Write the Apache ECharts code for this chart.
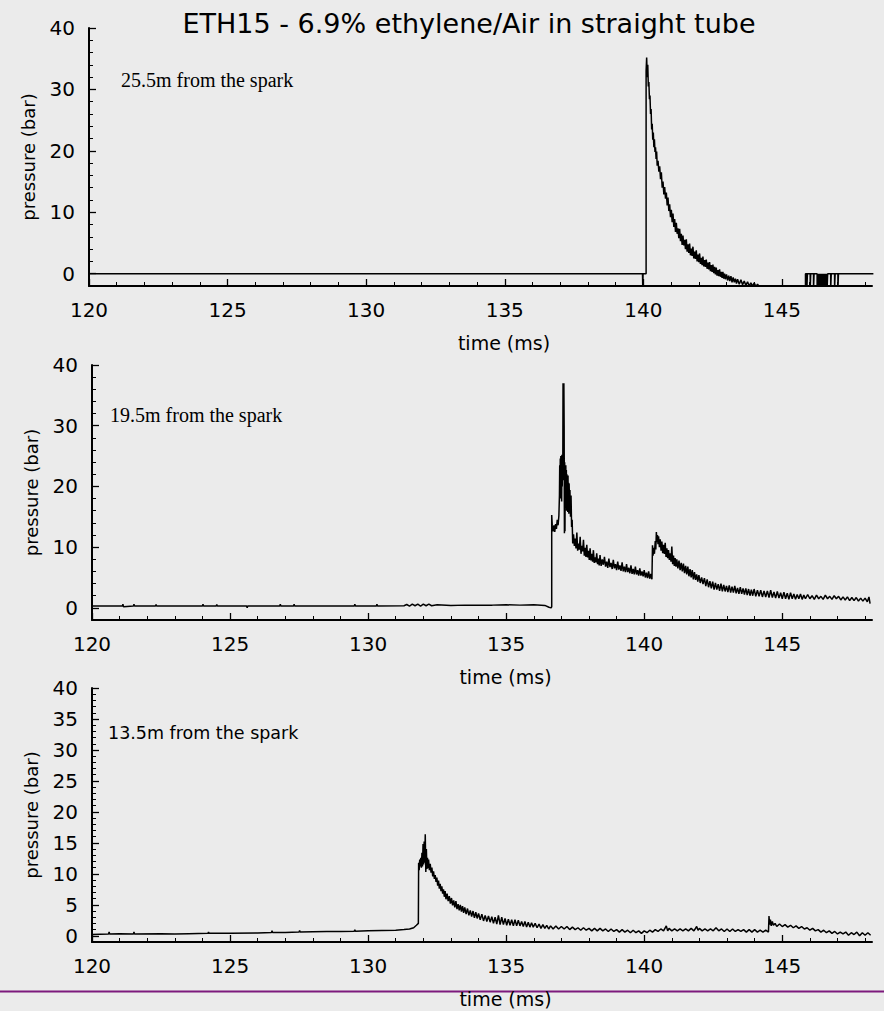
<!DOCTYPE html>
<html><head><meta charset="utf-8">
<script src="https://cdn.jsdelivr.net/npm/echarts@6/dist/echarts.min.js"></script>
<style>html,body{margin:0;padding:0;background:#ebebeb}#chart{width:884px;height:1011px}</style>
</head><body><div id="chart"></div>
<script>
// ---------- text ----------
const chartTitle = 'ETH15 - 6.9% ethylene/Air in straight tube';
const panelLabels = ['25.5m from the spark', '19.5m from the spark', '13.5m from the spark'];
const xAxisName = 'time (ms)';
const yAxisName = 'pressure (bar)';

// ---------- tick values ----------
const xLabelValues = [120, 125, 130, 135, 140, 145];
const xMinorValues = [121, 122, 123, 124, 126, 127, 128, 129, 131, 132, 133, 134, 136, 137, 138, 139, 141, 142, 143, 144, 146, 147, 148];
const yLabelValues40 = [0, 10, 20, 30, 40];
const yMinorValues40 = [2, 4, 6, 8, 12, 14, 16, 18, 22, 24, 26, 28, 32, 34, 36, 38];
const yLabelValues5 = [0, 5, 10, 15, 20, 25, 30, 35, 40];
const yMinorValues5 = [1, 2, 3, 4, 6, 7, 8, 9, 11, 12, 13, 14, 16, 17, 18, 19, 21, 22, 23, 24, 26, 27, 28, 29, 31, 32, 33, 34, 36, 37, 38, 39];
const xRange = [120, 148.25];
const yRanges = [[-2, 40], [-2, 40], [-1, 40]];

// ---------- traces: [time ms, pressure bar] ----------
const trace25_5m = [
 [120, 0], [139.97, 0], [139.98, -2.5], [139.99, 0], [140.1, 0],
 [140.1, 33], [140.12, 35.2], [140.14, 32.0], [140.16, 34.0], [140.18, 30.5], [140.20, 31.2], [140.22, 28.4],
 [140.24, 29.0], [140.26, 26.0], [140.28, 26.8], [140.30, 23.5], [140.32, 24.4], [140.34, 21.8], [140.36, 23.0],
 [140.38, 20.6], [140.40, 21.9], [140.42, 19.8], [140.44, 20.6], [140.46, 18.7], [140.48, 19.9], [140.50, 17.6],
 [140.53, 18.4], [140.56, 16.6], [140.59, 17.5], [140.62, 15.4], [140.65, 16.5], [140.68, 14.0], [140.71, 15.0],
 [140.74, 12.9], [140.77, 14.1], [140.80, 12.2], [140.83, 13.2], [140.86, 11.1], [140.89, 12.4], [140.92, 10.2],
 [140.95, 11.3], [140.98, 9.2], [141.01, 10.4], [141.04, 8.4], [141.07, 9.8], [141.10, 7.6], [141.13, 8.9],
 [141.16, 6.8], [141.19, 8.3], [141.22, 6.5], [141.25, 7.4], [141.28, 5.8], [141.31, 7.3], [141.34, 5.3],
 [141.37, 6.5], [141.40, 4.7], [141.43, 6.2], [141.46, 4.6], [141.49, 5.5], [141.52, 4.0], [141.55, 5.6],
 [141.58, 3.6], [141.61, 4.8], [141.64, 3.4], [141.67, 4.9], [141.70, 3.0], [141.73, 4.1], [141.76, 2.9],
 [141.79, 4.4], [141.82, 2.5], [141.85, 3.6], [141.88, 2.4], [141.91, 3.8], [141.94, 2.0], [141.97, 3.1],
 [142.00, 1.9], [142.03, 3.3], [142.06, 1.6], [142.09, 2.6], [142.12, 1.4], [142.15, 2.8], [142.18, 1.2],
 [142.21, 2.2], [142.24, 1.1], [142.27, 2.3], [142.30, 0.8], [142.33, 1.8], [142.36, 0.7], [142.39, 1.9],
 [142.42, 0.4], [142.45, 1.4], [142.48, 0.3], [142.51, 1.5], [142.54, 0.1], [142.57, 1.1], [142.60, -0.1],
 [142.63, 1.0], [142.66, -0.3], [142.69, 0.6], [142.72, -0.4], [142.75, 0.7], [142.78, -0.5], [142.81, 0.3],
 [142.84, -0.7], [142.87, 0.3], [142.90, -0.8], [142.93, 0.0], [142.96, -0.9], [143.00, -0.1], [143.04, -1.1],
 [143.08, -0.3], [143.12, -1.2], [143.16, -0.4], [143.20, -1.4], [143.24, -0.6], [143.28, -1.4], [143.32, -0.8],
 [143.36, -1.6], [143.40, -0.9], [143.46, -1.7], [143.52, -1.0], [143.58, -1.8], [143.64, -1.2], [143.70, -1.9],
 [143.76, -1.3], [143.82, -2.0], [143.88, -1.5], [143.94, -2.0], [144.00, -1.5], [144.06, -2.1], [144.12, -1.7],
 [144.18, -2.1], [144.24, -2.5], [145.85, -2.5], [145.85, 0],
 [145.90, 0], [145.90, -2.5], [145.92, -2.5], [145.92, 0], [146.02, 0], [146.02, -2.5], [146.04, -2.5], [146.04, 0],
 [146.14, 0], [146.14, -2.5], [146.16, -2.5], [146.16, 0], [146.27, 0], [146.27, -2.5], [146.29, 0], [146.31, -2.5],
 [146.33, 0], [146.35, -2.5], [146.37, 0], [146.39, -2.5], [146.41, 0], [146.43, -2.5], [146.45, 0], [146.47, -2.5],
 [146.49, 0], [146.51, -2.5], [146.53, 0], [146.55, -2.5], [146.57, 0], [146.59, -2.5], [146.61, 0], [146.63, -2.5],
 [146.65, 0], [146.76, 0], [146.76, -2.5], [146.78, -2.5], [146.78, 0], [146.90, 0], [146.90, -2.5], [146.92, 0],
 [147.02, 0], [147.02, -2.5], [147.04, -2.5], [147.04, 0], [148.3, 0]
];

const trace19_5m = [
 [120, 0.3], [121.1, 0.3], [121.12, 0.6], [121.14, 0.2], [121.5, 0.3], [121.52, 0.6], [121.54, 0.3],
 [122.3, 0.3], [122.32, 0.55], [122.34, 0.3], [124.0, 0.3], [124.02, 0.6], [124.04, 0.3], [124.5, 0.3],
 [124.52, 0.55], [124.54, 0.3], [125.6, 0.3], [125.62, 0.0], [125.64, 0.3], [126.8, 0.3], [126.82, 0.6],
 [126.84, 0.3], [127.3, 0.3], [127.32, 0.6], [127.34, 0.3], [129.5, 0.3], [129.52, 0.6], [129.54, 0.3],
 [130.3, 0.3], [130.32, 0.6], [130.34, 0.3], [131.3, 0.35], [131.4, 0.55], [131.5, 0.3], [131.6, 0.6],
 [131.7, 0.35], [131.8, 0.6], [131.9, 0.3], [132.0, 0.6], [132.1, 0.35], [132.2, 0.6], [132.3, 0.35],
 [132.5, 0.5], [133.0, 0.4], [133.5, 0.45], [134.0, 0.45], [134.5, 0.45], [135.0, 0.5], [135.5, 0.45],
 [136.0, 0.5], [136.4, 0.4], [136.55, 0.1], [136.63, 0.0],
 [136.65, 0.2], [136.65, 15.3], [136.67, 13.5], [136.70, 12.6], [136.73, 13.6], [136.76, 12.5], [136.79, 13.8],
 [136.82, 13.0], [136.85, 14.5], [136.88, 13.6], [136.91, 15.2], [136.93, 18.5], [136.94, 23.5], [136.95, 19.0],
 [136.96, 24.6], [136.97, 18.0], [136.98, 25.0], [136.99, 19.5], [137.00, 24.3], [137.01, 17.5], [137.02, 25.2],
 [137.03, 20.0], [137.04, 24.0], [137.05, 21.0], [137.06, 37.0], [137.065, 27.0], [137.07, 36.8], [137.08, 25.0],
 [137.09, 37.0], [137.10, 30.0], [137.11, 12.3], [137.12, 24.0], [137.13, 12.6], [137.14, 23.0], [137.15, 17.0],
 [137.16, 23.5], [137.17, 16.5], [137.18, 22.7], [137.19, 16.0], [137.20, 22.0], [137.21, 16.5], [137.22, 21.5],
 [137.23, 15.8], [137.24, 21.8], [137.25, 16.2], [137.26, 20.6], [137.27, 15.5], [137.28, 20.5], [137.30, 16.1],
 [137.31, 19.4], [137.33, 15.0], [137.35, 18.5], [137.37, 13.3], [137.39, 14.5], [137.41, 10.6],
 [137.44, 12.1], [137.47, 10.2], [137.50, 11.4], [137.53, 9.8], [137.56, 12.4], [137.59, 9.4], [137.62, 10.6],
 [137.65, 9.6], [137.68, 11.7], [137.71, 8.9], [137.74, 10.2], [137.77, 9.3], [137.80, 11.2], [137.83, 8.6],
 [137.86, 9.9], [137.89, 8.4], [137.92, 10.4], [137.95, 8.3], [137.98, 9.4], [138.01, 7.9], [138.04, 9.8],
 [138.07, 7.8], [138.10, 8.9], [138.13, 7.6], [138.16, 9.5], [138.19, 7.4], [138.22, 8.3], [138.25, 7.5],
 [138.28, 9.0], [138.31, 7.2], [138.34, 8.1], [138.37, 7.0], [138.40, 8.7], [138.44, 6.9], [138.48, 8.0],
 [138.52, 7.1], [138.56, 8.4], [138.60, 6.8], [138.64, 7.6], [138.68, 6.6], [138.72, 8.1], [138.76, 6.7],
 [138.80, 7.4], [138.84, 6.4], [138.88, 7.9], [138.92, 6.5], [138.96, 7.2], [139.00, 6.2], [139.04, 7.6],
 [139.08, 6.3], [139.12, 7.0], [139.16, 6.1], [139.20, 7.5], [139.24, 6.0], [139.28, 6.8], [139.32, 5.9],
 [139.36, 7.2], [139.40, 5.9], [139.44, 6.6], [139.48, 5.7], [139.52, 7.0], [139.56, 5.6], [139.60, 6.4],
 [139.64, 5.5], [139.68, 6.8], [139.72, 5.5], [139.76, 6.2], [139.80, 5.3], [139.84, 6.5], [139.88, 5.3],
 [139.92, 6.0], [139.96, 5.2], [140.00, 6.2], [140.04, 5.0], [140.08, 5.8], [140.12, 4.9], [140.16, 6.0],
 [140.20, 4.8], [140.24, 5.6], [140.28, 4.7],
 [140.30, 10.3], [140.32, 8.6], [140.34, 9.9], [140.37, 8.9], [140.40, 11.0], [140.42, 9.6], [140.44, 12.5],
 [140.46, 10.8], [140.48, 12.0], [140.50, 10.5], [140.52, 11.8], [140.55, 10.0], [140.58, 11.3], [140.61, 9.4],
 [140.64, 10.9], [140.67, 9.0], [140.70, 10.4], [140.73, 8.9], [140.76, 10.7], [140.79, 8.4], [140.82, 9.8],
 [140.85, 8.2], [140.88, 9.5], [140.91, 7.9], [140.94, 9.0], [140.97, 7.6], [141.00, 10.1], [141.03, 7.2],
 [141.06, 8.6], [141.09, 6.9], [141.12, 8.2], [141.15, 6.8], [141.18, 8.0], [141.22, 6.5], [141.26, 7.8],
 [141.30, 6.2], [141.34, 7.4], [141.38, 6.0], [141.42, 7.3], [141.46, 5.7], [141.50, 6.9], [141.54, 5.5],
 [141.58, 6.8], [141.62, 5.2], [141.66, 6.4], [141.70, 5.0], [141.74, 6.2], [141.78, 4.7], [141.82, 5.9],
 [141.86, 4.6], [141.90, 5.5], [141.94, 4.3], [141.98, 5.4], [142.03, 4.1], [142.08, 5.0], [142.13, 3.9],
 [142.18, 4.9], [142.23, 3.6], [142.28, 4.7], [142.33, 3.4], [142.38, 4.4], [142.43, 3.2], [142.48, 4.3],
 [142.53, 3.0], [142.58, 4.1], [142.63, 3.0], [142.68, 3.9], [142.73, 2.8], [142.78, 4.0], [142.83, 2.7],
 [142.88, 3.8], [142.93, 2.7], [142.98, 3.6], [143.03, 2.6], [143.08, 3.7], [143.13, 2.5], [143.18, 3.5],
 [143.23, 2.5], [143.28, 3.6], [143.33, 2.4], [143.38, 3.3], [143.43, 2.3], [143.48, 3.4], [143.53, 2.3],
 [143.58, 3.2], [143.63, 2.2], [143.68, 3.2], [143.73, 2.1], [143.78, 3.1], [143.83, 2.0], [143.88, 3.0],
 [143.93, 2.0], [143.98, 3.1], [144.04, 1.9], [144.10, 2.9], [144.16, 1.9], [144.22, 2.9], [144.28, 1.8],
 [144.34, 2.8], [144.40, 1.8], [144.46, 2.8], [144.52, 1.7], [144.58, 2.9], [144.64, 1.7], [144.70, 2.6],
 [144.76, 1.6], [144.82, 2.7], [144.88, 1.6], [144.94, 2.5], [145.00, 1.5], [145.06, 2.6], [145.12, 1.5],
 [145.18, 2.4], [145.24, 1.4], [145.30, 2.5], [145.36, 1.5], [145.42, 2.3], [145.48, 1.4], [145.54, 2.2],
 [145.60, 1.5], [145.66, 2.3], [145.72, 1.4], [145.78, 2.1], [145.84, 1.5], [145.92, 2.2], [146.00, 1.5],
 [146.08, 2.0], [146.16, 1.4], [146.24, 2.1], [146.32, 1.5], [146.40, 1.9], [146.48, 1.4], [146.56, 2.1],
 [146.64, 1.5], [146.72, 1.9], [146.80, 1.4], [146.88, 2.0], [146.96, 1.5], [147.04, 1.9], [147.12, 1.3],
 [147.20, 1.8], [147.28, 1.3], [147.36, 1.8], [147.44, 1.2], [147.52, 1.7], [147.60, 1.2], [147.68, 1.7],
 [147.76, 1.1], [147.84, 1.6], [147.92, 1.1], [148.00, 1.6], [148.08, 1.0], [148.14, 1.8], [148.18, 0.7]
];

const trace13_5m = [
 [120, 0.2], [120.6, 0.3], [120.62, 0.6], [120.64, 0.3], [121.0, 0.35], [121.5, 0.3], [121.52, 0.6], [121.54, 0.3],
 [122.5, 0.35], [123.0, 0.3], [123.5, 0.35], [124.2, 0.4], [124.22, 0.6], [124.24, 0.4], [125.0, 0.4], [126.0, 0.45],
 [126.5, 0.55], [126.52, 0.8], [126.54, 0.55], [127.0, 0.55], [127.5, 0.6], [127.52, 0.85], [127.54, 0.6],
 [128.0, 0.65], [128.5, 0.7], [129.0, 0.7], [129.5, 0.75], [129.52, 0.95], [129.54, 0.75], [130.0, 0.8],
 [130.5, 0.85], [131.0, 0.9], [131.3, 1.0], [131.5, 1.1], [131.65, 1.3], [131.75, 1.7], [131.82, 2.0],
 [131.83, 11.8], [131.85, 10.6], [131.87, 12.3], [131.89, 11.2], [131.91, 12.6], [131.93, 11.0], [131.95, 13.4],
 [131.97, 11.2], [131.99, 14.8], [132.01, 11.5], [132.03, 15.2], [132.05, 11.8], [132.07, 16.4], [132.09, 10.3],
 [132.11, 14.0], [132.13, 10.8], [132.15, 12.6], [132.17, 10.9], [132.19, 12.3], [132.22, 10.6], [132.25, 11.6],
 [132.28, 10.2], [132.31, 11.0], [132.34, 9.6], [132.37, 10.4], [132.40, 9.2], [132.43, 9.8], [132.46, 8.7],
 [132.49, 9.4], [132.52, 8.1], [132.55, 8.9], [132.58, 7.6], [132.61, 8.4], [132.64, 7.2], [132.67, 8.0],
 [132.70, 6.8], [132.73, 7.5], [132.76, 6.3], [132.79, 7.2], [132.82, 5.9], [132.86, 6.8], [132.90, 5.6],
 [132.94, 6.4], [132.98, 5.2], [133.02, 6.1], [133.06, 4.9], [133.10, 5.7], [133.14, 4.6], [133.18, 5.6],
 [133.22, 4.3], [133.26, 5.1], [133.30, 4.1], [133.34, 5.0], [133.38, 3.9], [133.42, 4.8], [133.46, 3.7],
 [133.50, 4.6], [133.55, 3.5], [133.60, 4.4], [133.65, 3.3], [133.70, 4.1], [133.75, 3.1], [133.80, 4.0],
 [133.85, 2.9], [133.90, 3.8], [133.95, 2.8], [134.0, 3.6], [134.06, 2.6], [134.12, 3.5], [134.18, 2.4],
 [134.24, 3.3], [134.30, 2.3], [134.36, 3.2], [134.42, 2.2], [134.48, 3.1], [134.54, 2.0], [134.60, 3.0],
 [134.66, 1.9], [134.72, 3.3], [134.78, 1.8], [134.84, 3.0], [134.90, 1.8], [134.96, 2.8], [135.02, 1.7],
 [135.08, 2.7], [135.14, 1.7], [135.20, 2.6], [135.26, 1.6], [135.32, 2.6], [135.38, 1.6], [135.44, 2.5],
 [135.50, 1.6], [135.56, 2.3], [135.62, 1.5], [135.68, 2.3], [135.74, 1.4], [135.80, 2.2], [135.86, 1.4],
 [135.92, 2.1], [135.98, 1.4], [136.05, 2.0], [136.12, 1.3], [136.19, 1.9], [136.26, 1.2], [136.33, 1.8],
 [136.40, 1.2], [136.47, 1.7], [136.54, 1.1], [136.61, 1.6], [136.7, 1.1], [136.8, 1.6], [136.9, 1.1],
 [137.0, 1.5], [137.1, 1.1], [137.2, 1.5], [137.3, 1.0], [137.4, 1.4], [137.5, 1.0], [137.6, 1.3], [137.7, 0.9],
 [137.8, 1.3], [137.9, 0.9], [138.0, 1.2], [138.1, 0.8], [138.2, 1.2], [138.3, 0.8], [138.4, 1.2], [138.5, 0.8],
 [138.6, 1.1], [138.7, 0.7], [138.8, 1.1], [138.9, 0.7], [139.0, 1.0], [139.1, 0.6], [139.2, 1.0], [139.3, 0.6],
 [139.4, 0.9], [139.5, 0.5], [139.6, 0.9], [139.7, 0.5], [139.8, 0.8], [139.9, 0.4], [140.0, 0.8], [140.1, 0.5],
 [140.2, 0.9], [140.3, 0.6], [140.4, 1.0], [140.5, 0.7], [140.6, 1.1], [140.7, 0.8], [140.8, 1.6], [140.85, 0.8],
 [140.9, 1.2], [141.0, 0.8], [141.1, 1.1], [141.2, 0.8], [141.3, 1.1], [141.4, 0.8], [141.5, 1.1], [141.6, 0.8],
 [141.7, 1.2], [141.8, 0.8], [141.9, 1.5], [141.95, 0.9], [142.0, 1.2], [142.1, 0.8], [142.2, 1.1], [142.3, 0.8],
 [142.4, 1.1], [142.5, 0.8], [142.6, 1.3], [142.7, 0.8], [142.8, 1.1], [142.9, 0.7], [143.0, 1.1], [143.1, 0.7],
 [143.2, 1.1], [143.3, 0.7], [143.4, 1.0], [143.5, 0.7], [143.6, 1.0], [143.7, 0.6], [143.8, 1.0], [143.9, 0.6],
 [144.0, 1.0], [144.1, 0.6], [144.2, 0.9], [144.3, 0.6], [144.4, 0.9], [144.5, 0.6], [144.52, 3.2], [144.54, 1.8],
 [144.57, 2.6], [144.60, 1.6], [144.64, 2.3], [144.68, 1.7], [144.74, 2.0], [144.8, 1.5], [144.9, 1.9], [145.0, 1.5],
 [145.1, 1.8], [145.2, 1.4], [145.3, 1.7], [145.4, 1.3], [145.5, 1.6], [145.6, 1.2], [145.7, 1.5], [145.8, 1.1],
 [145.9, 1.3], [146.0, 0.9], [146.1, 1.2], [146.2, 0.8], [146.3, 1.0], [146.4, 0.6], [146.5, 0.9], [146.6, 0.5],
 [146.7, 0.8], [146.8, 0.4], [146.9, 0.7], [147.0, 0.3], [147.1, 0.6], [147.2, 0.3], [147.3, 0.6], [147.4, 0.1],
 [147.5, 0.5], [147.6, 0.2], [147.7, 0.6], [147.8, 0.0], [147.9, 0.5], [148.0, 0.1], [148.1, 0.5], [148.2, 0.1]
];

// ---------- layout / style ----------
const traces = [trace25_5m, trace19_5m, trace13_5m];
const grids = [
  { left: 89, top: 28, width: 783, height: 258 },
  { left: 92, top: 365, width: 780, height: 255 },
  { left: 92, top: 688, width: 780, height: 254 }
];
const yLabelSets = [yLabelValues40, yLabelValues40, yLabelValues5];
const yMinorSets = [yMinorValues40, yMinorValues40, yMinorValues5];
const SANS = 'DejaVu Sans';
const INK = '#000';

const xAxes = [], yAxes = [], series = [];
grids.forEach((g, i) => {
  g.outerBoundsMode = 'none';
  g.containLabel = false;
  xAxes.push({
    gridIndex: i, type: 'value', position: 'bottom', min: xRange[0], max: xRange[1],
    axisLine: { show: true, onZero: false, lineStyle: { color: INK, width: 2 } },
    axisTick: { show: true, inside: true, length: 7, customValues: xLabelValues, lineStyle: { color: INK, width: 1.3 } },
    axisLabel: { show: true, customValues: xLabelValues, margin: 14, fontFamily: SANS, fontSize: 20, color: INK },
    splitLine: { show: false },
    name: xAxisName, nameLocation: 'middle', nameGap: 47,
    nameTextStyle: { fontFamily: SANS, fontSize: 19, color: INK, padding: [0, 0, 0, 47] }
  });
  xAxes.push({
    gridIndex: i, type: 'value', position: 'bottom', min: xRange[0], max: xRange[1],
    axisLine: { show: false, onZero: false },
    axisTick: { show: true, inside: true, length: 4, customValues: xMinorValues, lineStyle: { color: INK, width: 1 } },
    axisLabel: { show: false }, splitLine: { show: false }
  });
  yAxes.push({
    gridIndex: i, type: 'value', position: 'left', min: yRanges[i][0], max: yRanges[i][1],
    axisLine: { show: true, onZero: false, lineStyle: { color: INK, width: 2 } },
    axisTick: { show: true, inside: true, length: 7, customValues: yLabelSets[i], lineStyle: { color: INK, width: 1.3 } },
    axisLabel: { show: true, customValues: yLabelSets[i], margin: 14, fontFamily: SANS, fontSize: 20, color: INK },
    splitLine: { show: false },
    name: yAxisName, nameLocation: 'middle', nameGap: 52,
    nameTextStyle: { fontFamily: SANS, fontSize: 18, color: INK }
  });
  yAxes.push({
    gridIndex: i, type: 'value', position: 'left', min: yRanges[i][0], max: yRanges[i][1],
    axisLine: { show: false, onZero: false },
    axisTick: { show: true, inside: true, length: 4, customValues: yMinorSets[i], lineStyle: { color: INK, width: 1 } },
    axisLabel: { show: false }, splitLine: { show: false }
  });
  series.push({
    type: 'line', xAxisIndex: 2 * i, yAxisIndex: 2 * i, data: traces[i],
    showSymbol: false, symbol: 'none', silent: true, animation: false,
    lineStyle: { color: INK, width: 1.5 }
  });
});

const option = {
  backgroundColor: '#ebebeb',
  animation: false,
  grid: grids,
  xAxis: xAxes,
  yAxis: yAxes,
  series: series,
  graphic: [
    { type: 'text', x: 469, y: 23, silent: true,
      style: { text: chartTitle, fontFamily: SANS, fontSize: 27, fill: INK, textAlign: 'center', textVerticalAlign: 'middle' } },
    { type: 'text', x: 121, y: 80, silent: true,
      style: { text: panelLabels[0], fontFamily: 'Liberation Serif', fontSize: 20, fill: INK, textAlign: 'left', textVerticalAlign: 'middle' } },
    { type: 'text', x: 110, y: 415, silent: true,
      style: { text: panelLabels[1], fontFamily: 'Liberation Serif', fontSize: 20, fill: INK, textAlign: 'left', textVerticalAlign: 'middle' } },
    { type: 'text', x: 108, y: 733, silent: true,
      style: { text: panelLabels[2], fontFamily: SANS, fontSize: 17.5, fill: INK, textAlign: 'left', textVerticalAlign: 'middle' } },
    { type: 'line', silent: true, shape: { x1: 0, y1: 991.5, x2: 884, y2: 991.5 },
      style: { stroke: '#7d1a7d', lineWidth: 2 } }
  ]
};

const chart = echarts.init(document.getElementById('chart'), null, { renderer: 'svg', width: 884, height: 1011 });
chart.setOption(option);
</script>
</body></html>
